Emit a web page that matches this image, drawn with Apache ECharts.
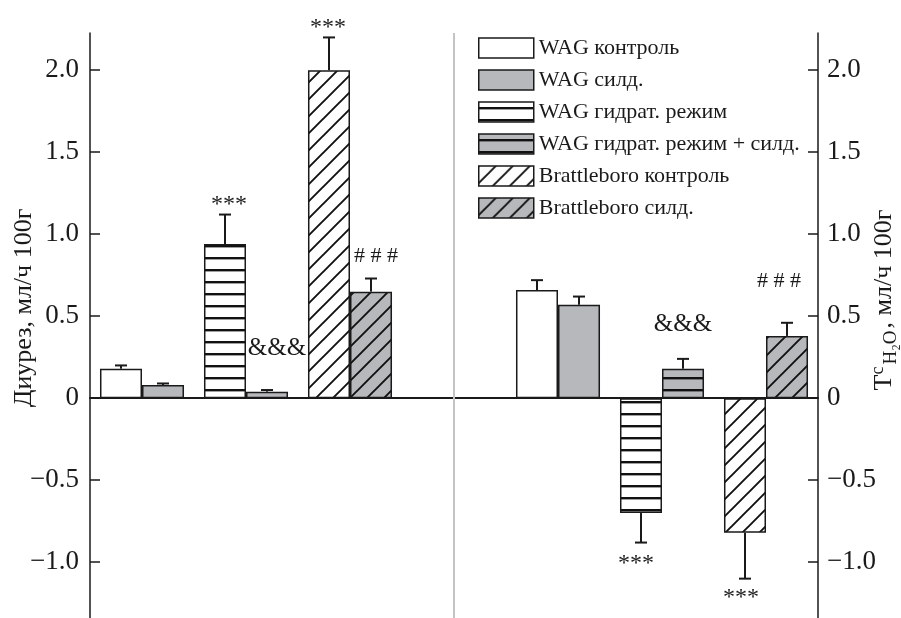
<!DOCTYPE html>
<html>
<head>
<meta charset="utf-8">
<script src="https://cdn.jsdelivr.net/npm/echarts@6/dist/echarts.min.js"></script>
<style>
  html, body { margin: 0; padding: 0; background: #fff; }
  #chart { width: 901px; height: 618px; }
</style>
</head>
<body>
<div id="chart"></div>
<script>
// Six experimental groups, each shown in both panels (diuresis, free-water clearance)
const seriesNames = [
  'WAG контроль',
  'WAG силд.',
  'WAG гидрат. режим',
  'WAG гидрат. режим + силд.',
  'Brattleboro контроль',
  'Brattleboro силд.'
];
// Left panel: diuresis, ml/h per 100 g (mean, SEM)
const diuresis    = [0.18, 0.08, 0.94, 0.04, 2.00, 0.65];
const diuresisErr = [0.02, 0.01, 0.18, 0.01, 0.20, 0.08];
const diuresisMarks = ['', '', '***', '&&&', '***', '# # #'];
// Right panel: free-water reabsorption, ml/h per 100 g (mean, SEM)
const freeWater    = [0.66, 0.57, -0.70, 0.18, -0.82, 0.38];
const freeWaterErr = [0.06, 0.05, 0.18, 0.06, 0.28, 0.08];
const freeWaterMarks = ['', '', '***', '&&&', '***', '# # #'];
// Category slots: three groups | divider | three groups
const slots = ['L1', 'L2', 'L3', 'mid', 'R1', 'R2', 'R3'];
const yTicks = [-1, -0.5, 0, 0.5, 1, 1.5, 2];

const SERIF = '"Liberation Serif", "Times New Roman", serif';
const INK = '#1a1a1a';
const GRAY = '#b7b8bb';
const barFrac = 0.404;

// Text offsets (px) of the significance marks relative to the error-bar tip
const markOffsets = {
  '0-2': [4, -15], '0-3': [10, -42], '0-4': [-1, -15], '0-5': [5, -22],
  '1-2': [-5, 16], '1-3': [0, -34], '1-4': [-4, 14], '1-5': [-8, -42]
};

function hatch(bg, kind) {
  const s = kind === 'diag' ? 17 : 12;
  const c = document.createElement('canvas');
  c.width = s; c.height = s;
  const g = c.getContext('2d');
  g.fillStyle = bg;
  g.fillRect(0, 0, s, s);
  g.fillStyle = '#111';
  g.strokeStyle = '#111';
  if (kind === 'horiz') {
    g.fillRect(0, 5, s, 2.4);
  } else {
    g.lineWidth = 1.9;
    g.beginPath();
    for (let k = -1; k <= 1; k++) {
      g.moveTo(k * s - 2, s + 2);
      g.lineTo(k * s + s + 2, -2);
    }
    g.stroke();
  }
  return { image: c, repeat: 'repeat' };
}

const fills = [
  '#ffffff',
  GRAY,
  hatch('#ffffff', 'horiz'),
  hatch(GRAY, 'horiz'),
  hatch('#ffffff', 'diag'),
  hatch(GRAY, 'diag')
];

const barSeries = seriesNames.map((name, i) => {
  const data = slots.map(() => '-');
  const g = Math.floor(i / 2);
  data[g] = diuresis[i];
  data[4 + g] = freeWater[i];
  return {
    name,
    type: 'bar',
    stack: i % 2 ? 'right' : 'left',
    barWidth: (barFrac * 100) + '%',
    barGap: '0%',
    data,
    itemStyle: { color: fills[i], borderColor: INK, borderWidth: 1.5 },
    emphasis: { disabled: true },
    z: 2
  };
});

// Error bars and significance marks
const errItems = [];
[[diuresis, diuresisErr, diuresisMarks], [freeWater, freeWaterErr, freeWaterMarks]].forEach((set, p) => {
  set[0].forEach((v, i) => {
    errItems.push({
      cat: p * 4 + Math.floor(i / 2),
      slot: i % 2,
      value: v,
      err: set[1][i],
      mark: set[2][i],
      offset: markOffsets[p + '-' + i] || [0, 0]
    });
  });
});

const errSeries = {
  type: 'custom',
  z: 5,
  silent: true,
  data: errItems.map(d => [d.cat, d.value, d.err, d.slot]),
  renderItem: function (params, api) {
    const d = errItems[params.dataIndex];
    const bw = api.size([1, 0])[0] * barFrac;
    const base = api.coord([d.cat, d.value]);
    const x = base[0] + (d.slot ? 0.5 : -0.5) * bw;
    const tip = api.coord([d.cat, d.value + (d.value < 0 ? -d.err : d.err)]);
    const ls = { stroke: INK, lineWidth: 2 };
    const children = [
      { type: 'line', shape: { x1: x, y1: base[1], x2: x, y2: tip[1] }, style: ls },
      { type: 'line', shape: { x1: x - 6, y1: tip[1], x2: x + 6, y2: tip[1] }, style: ls }
    ];
    if (d.mark) {
      const star = d.mark === '***';
      children.push({
        type: 'text',
        x: x + d.offset[0],
        y: tip[1] + d.offset[1] + (star ? 5 : 0),
        style: {
          text: d.mark,
          fill: INK,
          font: (star ? 24 : (d.mark === '&&&' ? 25 : 22)) + 'px ' + SERIF,
          align: 'center',
          verticalAlign: 'middle'
        }
      });
    }
    return { type: 'group', children };
  },
  markLine: {
    silent: true,
    symbol: 'none',
    label: { show: false },
    lineStyle: { color: '#c4c4c4', width: 2, type: 'solid' },
    data: [{ xAxis: 'mid' }]
  }
};

function tickLabel(v) {
  if (v === 0) return '0';
  return (v < 0 ? '\u2212' : '') + Math.abs(v).toFixed(1);
}

const yCommon = {
  type: 'value',
  min: -1.34,
  max: 2.227,
  splitLine: { show: false },
  axisLine: { show: true, lineStyle: { color: INK, width: 1.5 } },
  axisTick: { show: true, inside: true, length: 10, customValues: yTicks, lineStyle: { color: INK, width: 1.5 } },
  axisLabel: {
    customValues: yTicks,
    formatter: tickLabel,
    fontFamily: SERIF,
    fontSize: 27,
    color: INK
  }
};

const chart = echarts.init(document.getElementById('chart'), null, { renderer: 'canvas' });
chart.setOption({
  animation: false,
  backgroundColor: '#ffffff',
  grid: { left: 90, right: 83, top: 33, bottom: 0 },
  legend: {
    orient: 'vertical',
    left: 478,
    top: 37,
    padding: 0,
    itemWidth: 55,
    itemHeight: 20,
    itemGap: 10,
    icon: 'rect',
    selectedMode: false,
    data: seriesNames,
    textStyle: { fontFamily: SERIF, fontSize: 22, color: INK, lineHeight: 20 },
    itemStyle: { borderColor: INK, borderWidth: 1.5 }
  },
  xAxis: {
    type: 'category',
    data: slots,
    axisLine: { onZero: true, lineStyle: { color: INK, width: 2.2 } },
    axisTick: { alignWithLabel: true, length: 9, lineStyle: { color: INK, width: 1.5 } },
    axisLabel: { show: false },
    splitLine: { show: false }
  },
  yAxis: [
    Object.assign({}, yCommon, { position: 'left', axisLabel: Object.assign({}, yCommon.axisLabel, { margin: 11 }) }),
    Object.assign({}, yCommon, { position: 'right', axisLabel: Object.assign({}, yCommon.axisLabel, { margin: 9 }) })
  ],
  graphic: [
    {
      type: 'text',
      x: 24, y: 308,
      rotation: Math.PI / 2,
      style: {
        text: 'Диурез, мл/ч 100г',
        font: '26px ' + SERIF,
        fill: INK,
        align: 'center',
        verticalAlign: 'middle'
      }
    },
    {
      type: 'text',
      x: 884, y: 300,
      rotation: Math.PI / 2,
      style: {
        text: '{b|T}{sup|c}{sub|H₂O}{b|, мл/ч 100г}',
        fill: INK,
        align: 'center',
        verticalAlign: 'middle',
        rich: {
          b: { fontFamily: SERIF, fontSize: 26, fill: INK, lineHeight: 34, verticalAlign: 'middle' },
          sup: { fontFamily: SERIF, fontSize: 18, fill: INK, lineHeight: 34, verticalAlign: 'top', padding: [2, 0, 0, 0] },
          sub: { fontFamily: SERIF, fontSize: 19, fill: INK, lineHeight: 34, verticalAlign: 'bottom', padding: [0, 2, 0, 2] }
        }
      }
    }
  ],
  series: barSeries.concat([errSeries])
});
</script>
</body>
</html>
